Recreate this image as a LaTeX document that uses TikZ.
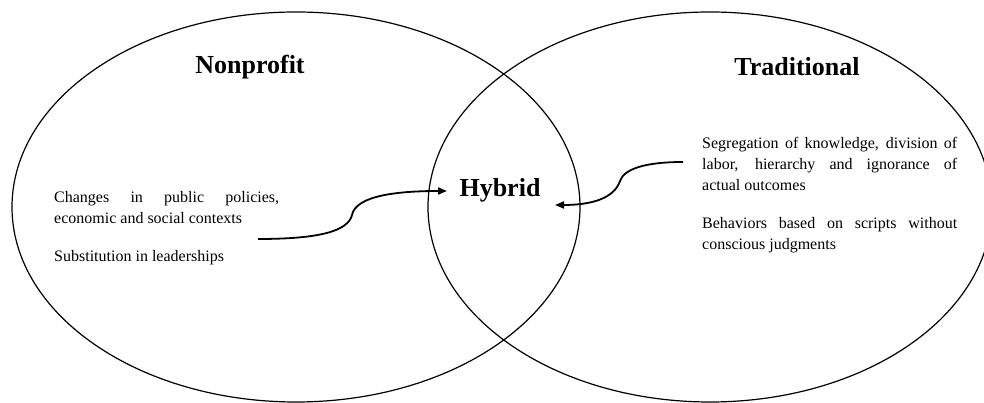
\documentclass[tikz,border=0pt]{standalone}
\usepackage{fontspec}
\setmainfont{Liberation Serif}
\usetikzlibrary{arrows.meta}
\tikzset{
  title/.style={font=\fontsize{26}{30}\selectfont\bfseries},
  body/.style={font=\fontsize{16}{21}\selectfont, inner sep=0pt, align=justify},
  curvy/.style={line width=1.8pt, -{Triangle[length=9pt,width=7pt]}}
}
\begin{document}
\begin{tikzpicture}[x=1pt,y=1pt]
  \clip (0,0) rectangle (984,403);
  % Two ellipses
  \draw[line width=1.2pt] (296,196) ellipse [x radius=284, y radius=195];
  \draw[line width=1.2pt] (710,196) ellipse [x radius=282, y radius=195];
  % Titles
  \node[title] (nonprofit) at (250,336) {Nonprofit};
  \node[title] (traditional) at (797,336) {Traditional};
  \node[title] (hybrid) at (500,213) {Hybrid};
  % Left text
  \node[body, text width=225pt, anchor=base west] (ltext) at (54,200) {%
    \setlength{\parskip}{17pt}Changes in public policies,\linebreak economic and social contexts\par
    Substitution in leaderships};
  % Right text
  \node[body, text width=255pt, anchor=base west] (rtext) at (702,254) {%
    \setlength{\parskip}{17pt}Segregation of knowledge, division of\linebreak labor, hierarchy and ignorance of\linebreak actual outcomes\par
    Behaviors based on scripts without\linebreak conscious judgments};
  % Arrows
  \coordinate (lfrom) at (258,164);
  \coordinate (lto) at (447,212);
  \coordinate (rfrom) at (683,241);
  \coordinate (rto) at (555,198);
  \draw[curvy] (lfrom) .. controls (320,164) and (348,172) .. (352,188)
    .. controls (356,208) and (400,212) .. (lto);
  \draw[curvy] (rfrom) .. controls (645,241) and (624,234) .. (620,222)
    .. controls (614,204) and (590,198) .. (rto);
\end{tikzpicture}
\end{document}
